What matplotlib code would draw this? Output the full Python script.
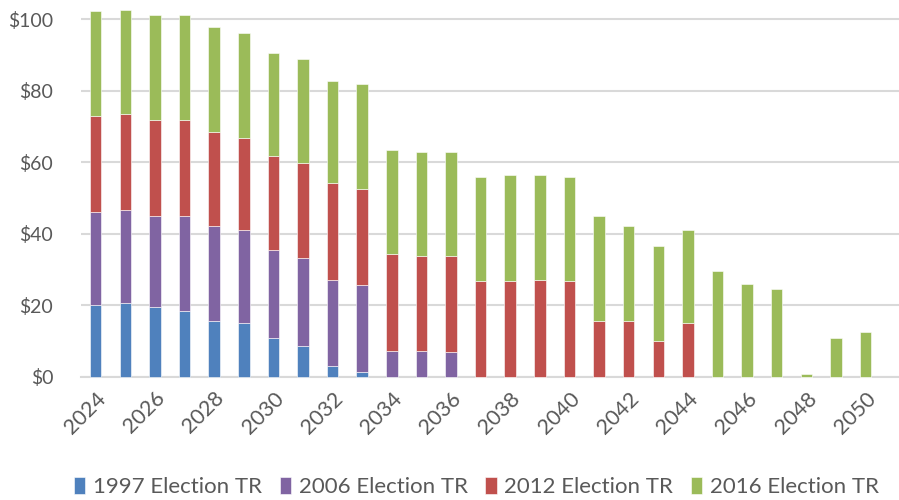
import matplotlib.pyplot as plt
import numpy as np

years = list(range(2024, 2051))

tr_1997 = [20.2, 20.7, 19.6, 18.5, 15.7, 15.1, 10.8, 8.6, 3.1, 1.4,
           0, 0, 0, 0, 0, 0, 0, 0, 0, 0, 0, 0, 0, 0, 0, 0, 0]
tr_2006 = [25.8, 25.9, 25.4, 26.5, 26.5, 26.0, 24.8, 24.8, 24.1, 24.2,
           7.4, 7.4, 6.9, 0, 0, 0, 0, 0, 0, 0, 0, 0, 0, 0, 0, 0, 0]
tr_2012 = [26.9, 26.9, 26.9, 26.9, 26.3, 25.8, 26.3, 26.3, 27.0, 26.9,
           27.0, 26.4, 26.9, 26.7, 26.7, 27.2, 26.7, 15.7, 15.7, 10.1, 15.1,
           0, 0, 0, 0, 0, 0]
tr_2016 = [29.3, 29.2, 29.2, 29.2, 29.3, 29.2, 28.8, 29.3, 28.6, 29.3,
           29.2, 29.2, 29.2, 29.2, 29.8, 29.3, 29.2, 29.2, 26.4, 26.4, 25.9,
           29.6, 26.1, 24.5, 0.8, 10.8, 12.5]

series = [
    ("1997 Election TR", tr_1997, "#4F81BD"),
    ("2006 Election TR", tr_2006, "#8064A2"),
    ("2012 Election TR", tr_2012, "#C0504D"),
    ("2016 Election TR", tr_2016, "#9BBB59"),
]

plt.rcParams["font.family"] = ["Lato", "DejaVu Sans"]
text_color = "#595959"

fig = plt.figure(figsize=(8.99, 5.0), dpi=100)
ax = fig.add_axes([0.090, 0.246, 0.910, 0.754])

x = np.arange(len(years))
bottom = np.zeros(len(years))
for label, values, color in series:
    vals = np.array(values)
    ax.bar(x, vals, width=0.39, bottom=bottom, color=color, label=label,
           edgecolor="#ffffff", linewidth=0.4, zorder=3, clip_on=False)
    bottom += vals

ax.set_xlim(-0.5, 27.13)
ax.set_ylim(0, 105.4)
ax.set_yticks(range(0, 101, 20))
ax.set_yticklabels([f"${v}" for v in range(0, 101, 20)])
ax.yaxis.grid(True, color="#D9D9D9", linewidth=1.5, zorder=0)
ax.set_axisbelow(True)

ax.set_xticks(x[::2])
ax.set_xticklabels([str(y) for y in years[::2]], rotation=45, ha="right",
                   va="top", rotation_mode="anchor", fontsize=15.5)

for side in ["top", "right", "left"]:
    ax.spines[side].set_visible(False)
ax.spines["bottom"].set_color("#D9D9D9")
ax.spines["bottom"].set_linewidth(1.5)
ax.tick_params(axis="both", length=0, colors=text_color)
ax.tick_params(axis="y", pad=20, labelsize=14)
ax.tick_params(axis="x", pad=8)

fig.legend(loc="center", bbox_to_anchor=(0.53, 0.026), ncol=4,
           frameon=False, fontsize=16, labelcolor=text_color,
           handlelength=0.5, handleheight=0.8, handletextpad=0.35,
           columnspacing=0.8)

fig.savefig("out.png", dpi=100)
